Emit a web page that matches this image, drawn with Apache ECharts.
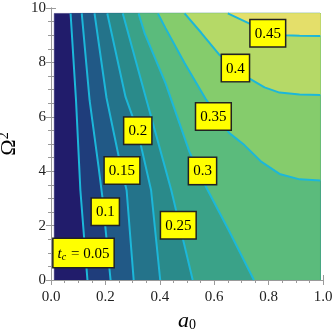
<!DOCTYPE html>
<html>
<head>
<meta charset="utf-8">
<script src="https://cdn.jsdelivr.net/npm/echarts@6/dist/echarts.min.js"></script>
<style>
html,body{margin:0;padding:0;background:#fff;}
#main{width:332px;height:334px;}
</style>
</head>
<body>
<div id="main"></div>
<script>
// t_c contour levels
var levels = [0.05, 0.1, 0.15, 0.2, 0.25, 0.3, 0.35, 0.4, 0.45];

// contour lines, [a0, Omega^2], top edge first
var c005 = [[0.072,9.8],[0.092,6.6],[0.108,3.3],[0.134,0]];
var c010 = [[0.113,9.8],[0.142,6.6],[0.175,4.15],[0.189,3.05],[0.219,0]];
var c015 = [[0.16,9.8],[0.204,6.7],[0.256,4.2],[0.278,3.3],[0.304,0]];
var c020 = [[0.207,9.8],[0.274,6.73],[0.318,5.5],[0.368,3.3],[0.4015,0]];
var c025 = [[0.264,9.8],[0.346,6.8],[0.419,4.15],[0.442,3.31],[0.521,0]];
var c030 = [[0.322,9.8],[0.344,9.08],[0.421,7.24],[0.509,4.71],[0.572,3.38],[0.653,1.84],[0.746,0]];
var c035 = [[0.393,9.8],[0.421,9.26],[0.491,7.98],[0.571,6.62],[0.656,5.4],[0.711,4.96],[0.774,4.34],[0.84,3.9],[0.914,3.7],[0.99,3.66]];
var c040 = [[0.491,9.8],[0.553,9.08],[0.62,8.27],[0.678,7.79],[0.727,7.42],[0.785,7.08],[0.84,6.89],[0.914,6.82],[0.99,6.8]];
var c045 = [[0.65,9.8],[0.693,9.6],[0.734,9.41],[0.796,9.08],[0.859,9.0],[0.914,8.98],[0.99,8.97]];
var contours = [c005, c010, c015, c020, c025, c030, c035, c040, c045];

// fill colours, lowest band first
var bandColors = ['#211c6b','#1f3d7b','#215986','#24738a','#2a8a8a','#3aa288','#5bbb7c','#85cc6c','#b5d967','#e4df6a'];

// label anchors [a0, Omega^2] and texts
var labelPos = [[0.1195,0.99],[0.1996,2.51],[0.261,4.03],[0.319,5.49],[0.468,2.01],[0.557,4.01],[0.597,6.01],[0.678,7.79],[0.797,9.07]];
var labelText = ['{it|t}{sub|c}{n| = 0.05}','{n|0.1}','{n|0.15}','{n|0.2}','{n|0.25}','{n|0.3}','{n|0.35}','{n|0.4}','{n|0.45}'];

// extent of the filled area
var xMin = 0.012, xMax = 0.99, yMin = 0, yMax = 9.8;

// region t_c > level is everything right of its contour
var polygons = [[[xMin,yMax],[xMin,yMin],[xMax,yMin],[xMax,yMax]]];
contours.forEach(function (c) {
  var pts = c.slice();
  var last = pts[pts.length - 1];
  if (last[1] <= yMin) {
    pts.push([xMax, yMin]);
  }
  pts.push([xMax, yMax]);
  polygons.push(pts);
});

var serif = 'Liberation Serif';
var chart = echarts.init(document.getElementById('main'));

var series = [{
  type: 'custom',
  z: 1,
  clip: true,
  silent: true,
  data: polygons.map(function (p) { return p[0]; }),
  renderItem: function (params, api) {
    var poly = polygons[params.dataIndex];
    return {
      type: 'polygon',
      shape: { points: poly.map(function (p) { return api.coord(p); }) },
      style: { fill: bandColors[params.dataIndex], stroke: bandColors[params.dataIndex], lineWidth: 0.5 }
    };
  }
}];

contours.forEach(function (c) {
  series.push({
    type: 'line',
    z: 3,
    data: c,
    symbol: 'none',
    silent: true,
    lineStyle: { color: '#1cb7d9', width: 2 }
  });
});

series.push({
  type: 'scatter',
  z: 5,
  data: labelPos,
  symbolSize: 0,
  silent: true,
  itemStyle: { color: '#ffff00', opacity: 1 },
  label: {
    show: true,
    position: 'inside',
    opacity: 1,
    formatter: function (p) { return labelText[p.dataIndex]; },
    backgroundColor: '#ffff00',
    borderColor: '#222',
    borderWidth: 1.5,
    padding: [6, 4, 5, 4],
    rich: {
      n: { fontFamily: serif, fontSize: 15, color: '#000' },
      it: { fontFamily: serif, fontSize: 15, fontStyle: 'italic', color: '#000' },
      sub: { fontFamily: serif, fontSize: 10, fontStyle: 'italic', color: '#000', padding: [7, 1, 0, 0] }
    }
  }
});

var axisGray = '#9a9a9a';
function xAx(pos, labels) {
  return {
    type: 'value', position: pos, min: 0, max: 1, interval: 0.2,
    axisLine: { show: true, lineStyle: { color: axisGray, width: 1 } },
    axisTick: { show: true, inside: true, length: 5, lineStyle: { color: axisGray } },
    minorTick: { show: true, splitNumber: 4, length: 3, lineStyle: { color: axisGray } },
    splitLine: { show: false },
    axisLabel: { show: labels, margin: 10, color: '#222', fontFamily: serif, fontSize: 15,
      formatter: function (v) { return v.toFixed(1); } }
  };
}
function yAx(pos, labels) {
  return {
    type: 'value', position: pos, min: 0, max: 10, interval: 2,
    axisLine: { show: true, lineStyle: { color: axisGray, width: 1 } },
    axisTick: { show: true, inside: true, length: 5, lineStyle: { color: axisGray } },
    minorTick: { show: true, splitNumber: 4, length: 3, lineStyle: { color: axisGray } },
    splitLine: { show: false },
    axisLabel: { show: labels, margin: 5, color: '#222', fontFamily: serif, fontSize: 15 }
  };
}

var xa = xAx('bottom', true);
xa.name = '{a|a}{s|0}';
xa.nameLocation = 'middle';
xa.nameGap = 25;
xa.nameTextStyle = { rich: {
  a: { fontFamily: serif, fontStyle: 'italic', fontSize: 22, color: '#000' },
  s: { fontFamily: serif, fontSize: 14, color: '#000', padding: [9, 0, 0, 0] }
} };
var ya = yAx('left', true);
ya.name = '{o|Ω}{s|2}';
ya.nameLocation = 'middle';
ya.nameRotate = 90;
ya.nameGap = 28;
ya.nameTextStyle = { rich: {
  o: { fontFamily: serif, fontSize: 22, color: '#000' },
  s: { fontFamily: serif, fontSize: 14, color: '#000', padding: [0, 0, 9, 0] }
} };

chart.setOption({
  animation: false,
  grid: { left: 51, right: 9, top: 8, bottom: 54, containLabel: false, outerBoundsMode: 'none' },
  xAxis: [xa, xAx('top', false)],
  yAxis: [ya, yAx('right', false)],
  series: series
});
</script>
</body>
</html>
